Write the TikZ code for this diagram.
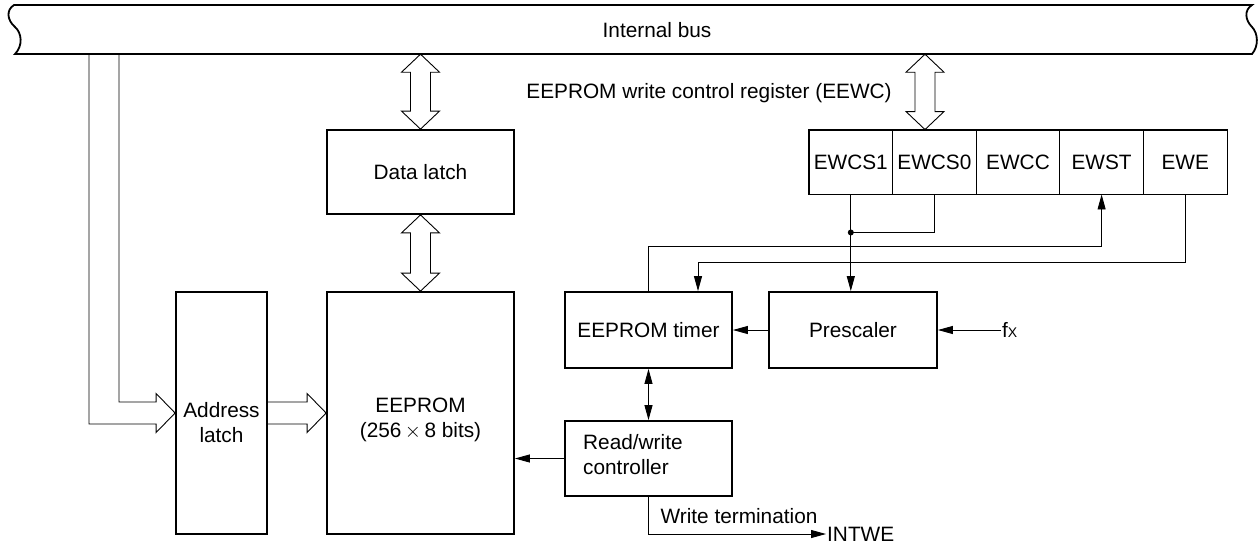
\documentclass[tikz,border=0pt]{standalone}
\usepackage{fontspec}
\setmainfont{Liberation Sans}
\usetikzlibrary{arrows.meta,calc}

\tikzset{
  txt/.style={font=\fontsize{20.8}{25}\selectfont, inner sep=1pt},
  box/.style={draw, line width=1.8pt, inner sep=0pt},
  cell/.style={draw, line width=0.9pt, minimum width=83.6pt, minimum height=64pt, inner sep=0pt, txt},
  wire/.style={line width=0.9pt},
  hollow/.style={line width=0.9pt, line join=miter},
  busline/.style={line width=1.8pt, fill=white},
  >={Triangle[length=15pt,width=8pt]}
}

% vertical double-headed hollow bus arrow between two points
\newcommand\vbusarrow[2]{%
  \draw[hollow] let \p1=(#1), \p2=(#2) in
    (\x1,\y1) -- (\x1+19pt,\y1-18pt) -- (\x1+10pt,\y1-18pt)
    -- (\x1+10pt,\y2+18pt) -- (\x1+19pt,\y2+18pt) -- (\x1,\y2)
    -- (\x1-19pt,\y2+18pt) -- (\x1-10pt,\y2+18pt)
    -- (\x1-10pt,\y1-18pt) -- (\x1-19pt,\y1-18pt) -- cycle;}

\begin{document}
\begin{tikzpicture}[x=1pt,y=-1pt]
\fill[white] (0,0) rectangle (1258,550);
\useasboundingbox (0,0) rectangle (1258,550);

% internal bus outline with wavy ends
\draw[busline] (14,5) -- (1252,5)
  .. controls (1244,10) and (1245,20) .. (1252,27)
  .. controls (1258,33) and (1259,46) .. (1252,54)
  -- (15,54)
  .. controls (23,46) and (22,33) .. (15,27)
  .. controls (7,20) and (6,10) .. (14,5) -- cycle;
\node[minimum width=1238pt, minimum height=49pt, inner sep=0pt] (bus) at (633,29.5) {};
\node[txt] (buslabel) at (657,30) {Internal bus};

% blocks
\node[box, minimum width=187pt, minimum height=84pt] (dl) at (420.5,172) {};
\node[txt] (dltext) at (dl.center) {Data latch};
\node[box, minimum width=187pt, minimum height=242pt] (ee) at (420.5,413) {};
\node[txt, align=center] (eetext) at (420.5,420) {EEPROM\\(256\,$\times$\,8 bits)};
\node[box, minimum width=91pt, minimum height=242pt] (al) at (221.5,413) {};
\node[txt, align=center] (altext) at (221.5,423) {Address\\latch};
\node[box, minimum width=167pt, minimum height=76pt] (tim) at (648.5,330) {};
\node[txt] (timtext) at (tim.center) {EEPROM timer};
\node[box, minimum width=168pt, minimum height=76pt] (pre) at (853,330) {};
\node[txt] (pretext) at (pre.center) {Prescaler};
\node[box, minimum width=167pt, minimum height=75pt] (rw) at (648.5,458.5) {};
\node[txt, align=left, anchor=west] (rwtext) at (582,455) {Read/write\\controller};

% EEWC register
\node[txt] (reglabel) at (709,93) {EEPROM write control register (EEWC)};
\node[cell] (c1) at (850.8,162) {EWCS1};
\node[cell] (c2) at (934.4,162) {EWCS0};
\node[cell] (c3) at (1018,162) {EWCC};
\node[cell] (c4) at (1101.6,162) {EWST};
\node[cell] (c5) at (1185.2,162) {EWE};
\draw[line width=1.8pt] (c1.north west) rectangle (c5.south east);
\path (c2.north) ++(-9.4,0) coordinate (regin);

% bus transfers
\vbusarrow{bus.south -| dl.north}{dl.north}
\vbusarrow{dl.south}{ee.north}
\vbusarrow{bus.south -| regin}{regin}

\draw[hollow] let \p1=(al.west), \p2=(bus.south) in
  (89pt,\y2) -- (89pt,\y1-11pt) -- (\x1-19pt,\y1-11pt) -- (\x1-19pt,\y1-19.5pt)
  -- (\x1,\y1) -- (\x1-19pt,\y1+19.5pt) -- (\x1-19pt,\y1+11pt)
  -- (119pt,\y1+11pt) -- (119pt,\y2);
\draw[hollow] let \p1=(al.east), \p2=(ee.west) in
  (\x1,\y1+11pt) -- (\x2-19pt,\y1+11pt) -- (\x2-19pt,\y1+19.5pt)
  -- (\x2,\y1) -- (\x2-19pt,\y1-19.5pt) -- (\x2-19pt,\y1-11pt) -- (\x1,\y1-11pt);

% control signals
\path (c1.south) ++(0,38) coordinate (jn);
\draw[wire,->] (c1.south) -- (c1.south |- pre.north);
\draw[wire] (c2.south) |- (jn);
\fill (jn) circle (3pt);
\draw[wire,->] (tim.north) -- ++(0,-45) -| (c4.south);
\draw[wire,->] (c5.south) -- ++(0,68) -| ($(tim.north)+(49.5,0)$);

\node[txt, anchor=west] (fx) at (1001,330) {f{\fontsize{14}{14}\selectfont X}};
\draw[wire,->] (fx.west) -- (pre.east);
\draw[wire,->] (pre.west) -- (tim.east);
\draw[wire,<->] (tim.south) -- (rw.north);
\draw[wire,->] (rw.west) -- (rw.west -| ee.east);

\node[txt, anchor=west] (intwe) at (826,534) {INTWE};
\draw[wire,->] (rw.south) |- (intwe.west);
\node[txt] (wtlabel) at (739,516) {Write termination};
\end{tikzpicture}
\end{document}
